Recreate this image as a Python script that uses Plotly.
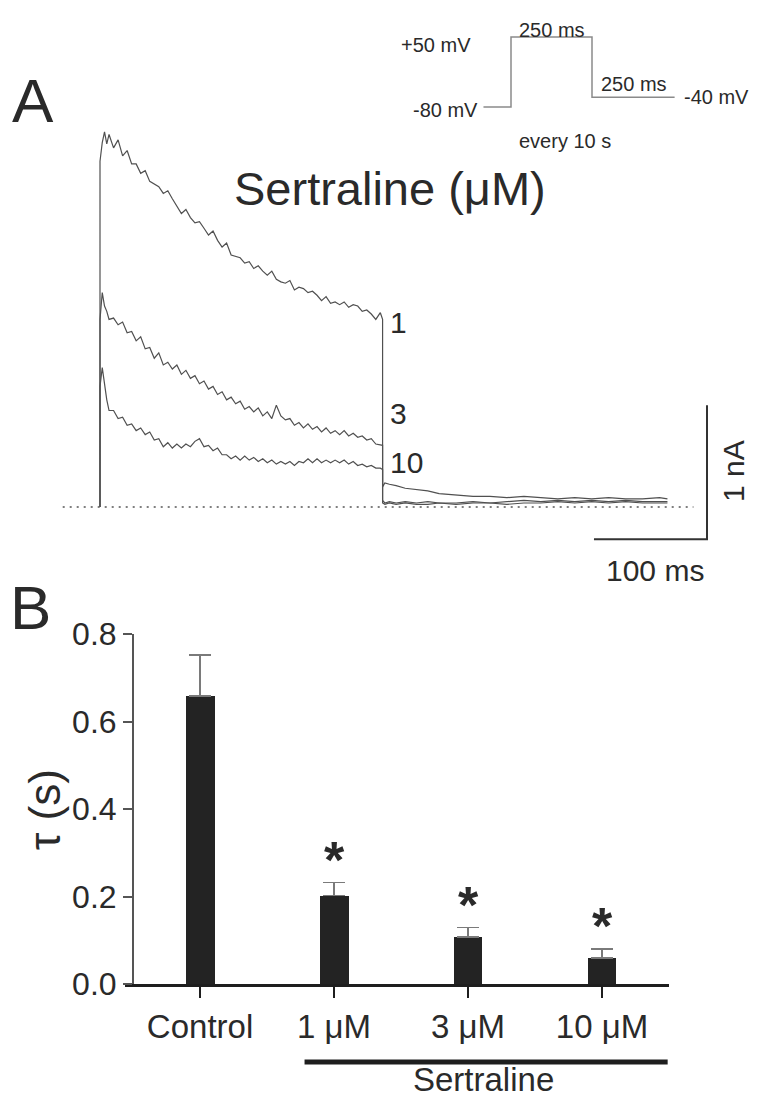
import plotly.graph_objects as go

W, H = 769, 1099
FONT = "Arial, Liberation Sans, sans-serif"
INK = "#2a2a2a"

# ---------------- Panel A data (current traces, nA vs ms) ----------------
t_step = [0, 2, 4, 6, 8, 12, 16, 20, 24, 28, 32, 36, 40, 44, 48, 52, 56, 60, 64, 68,
          72, 76, 80, 84, 88, 92, 96, 100, 104, 108, 112, 116, 120, 124, 128, 132,
          136, 140, 144, 148, 152, 156, 160, 164, 168, 172, 176, 180, 184, 188, 192,
          196, 200, 204, 208, 212, 216, 220, 224, 228, 232, 236, 240, 244, 248, 250]

i_1uM = [2.58, 2.72, 2.80, 2.71, 2.78, 2.68, 2.74, 2.62, 2.66, 2.56,
         2.56, 2.49, 2.51, 2.43, 2.41, 2.39, 2.34, 2.36, 2.30, 2.25,
         2.19, 2.22, 2.16, 2.12, 2.13, 2.08, 2.03, 2.06, 1.99, 1.94,
         1.97, 1.88, 1.87, 1.86, 1.82, 1.83, 1.78, 1.80, 1.76, 1.73,
         1.76, 1.70, 1.68, 1.67, 1.69, 1.62, 1.64, 1.63, 1.60, 1.61,
         1.58, 1.54, 1.57, 1.52, 1.53, 1.51, 1.53, 1.49, 1.51, 1.50,
         1.46, 1.47, 1.44, 1.40, 1.45, 1.40]

i_3uM = [1.40, 1.60, 1.50, 1.46, 1.40, 1.41, 1.36, 1.38, 1.30, 1.31,
         1.24, 1.27, 1.18, 1.19, 1.11, 1.15, 1.06, 1.08, 1.03, 1.06,
         0.99, 1.02, 0.96, 0.98, 0.92, 0.94, 0.88, 0.90, 0.84, 0.86,
         0.80, 0.82, 0.77, 0.79, 0.73, 0.75, 0.71, 0.74, 0.68, 0.71,
         0.66, 0.76, 0.68, 0.65, 0.66, 0.61, 0.63, 0.59, 0.62, 0.58,
         0.60, 0.56, 0.59, 0.55, 0.57, 0.54, 0.57, 0.53, 0.55, 0.52,
         0.53, 0.50, 0.51, 0.47, 0.46, 0.46]

i_10uM = [0.90, 1.04, 0.90, 0.80, 0.72, 0.72, 0.66, 0.67, 0.61, 0.62,
          0.57, 0.59, 0.54, 0.56, 0.50, 0.51, 0.45, 0.48, 0.44, 0.47,
          0.44, 0.47, 0.45, 0.49, 0.51, 0.45, 0.46, 0.42, 0.44, 0.39,
          0.39, 0.36, 0.38, 0.35, 0.38, 0.35, 0.37, 0.34, 0.36, 0.33,
          0.35, 0.32, 0.34, 0.32, 0.34, 0.31, 0.34, 0.33, 0.36, 0.33,
          0.36, 0.33, 0.35, 0.33, 0.35, 0.33, 0.35, 0.32, 0.34, 0.31,
          0.32, 0.30, 0.31, 0.29, 0.29, 0.28]

t_tail = [250, 252, 256, 262, 270, 280, 290, 300, 315, 330, 345, 360, 375, 390, 405,
          420, 435, 450, 465, 480, 495, 502]
tail_1uM = [0.15, 0.18, 0.17, 0.16, 0.14, 0.13, 0.12, 0.10, 0.09, 0.08, 0.08, 0.07,
            0.08, 0.07, 0.06, 0.07, 0.06, 0.07, 0.06, 0.06, 0.07, 0.06]
tail_3uM = [0.05, 0.03, 0.04, 0.03, 0.04, 0.03, 0.04, 0.03, 0.03, 0.04, 0.03, 0.04,
            0.05, 0.04, 0.05, 0.04, 0.05, 0.04, 0.05, 0.04, 0.04, 0.04]
tail_10uM = [0.03, 0.02, 0.03, 0.02, 0.03, 0.02, 0.02, 0.03, 0.02, 0.03, 0.03, 0.02,
             0.03, 0.03, 0.04, 0.03, 0.04, 0.03, 0.04, 0.03, 0.03, 0.03]

trace_labels = ["1", "3", "10"]
baseline_t = [-33, 525]
scalebar_t = [437, 537, 537]      # 100 ms
scalebar_i = [-0.24, -0.24, 0.76]  # 1 nA

# voltage protocol (schematic): time in ms, level 0 = -80 mV, 1 = +50 mV
proto_t = [-85, 0, 0, 250, 250, 505]
proto_level = [0, 0, 1, 1, 0.14, 0.14]

# ---------------- Panel B data (tau, s) ----------------
categories = ["Control", "1 μM", "3 μM", "10 μM"]
tau_mean = [0.658, 0.202, 0.108, 0.060]
tau_sem = [0.094, 0.030, 0.021, 0.020]
significant = [False, True, True, True]
yticks = [0.0, 0.2, 0.4, 0.6, 0.8]


# ---------------- helpers: pixel -> paper ----------------
def px(x):
    return x / W


def py(y):
    return 1 - y / H


def lin_range(p0, v0, p1, v1, lo, hi):
    # axis value range for pixel span [lo, hi] given two calibration pairs
    s = (v1 - v0) / (p1 - p0)
    return [v0 + (lo - p0) * s, v0 + (hi - p0) * s]


fig = go.Figure()

# ---- Panel A traces ----
for ist, itail in [(i_1uM, tail_1uM), (i_3uM, tail_3uM), (i_10uM, tail_10uM)]:
    fig.add_trace(go.Scatter(
        x=[0] + t_step + t_tail, y=[0] + ist + itail,
        mode="lines", line=dict(color="#505050", width=1.2),
        xaxis="x", yaxis="y", showlegend=False, hoverinfo="skip"))

fig.add_trace(go.Scatter(
    x=baseline_t, y=[0, 0], mode="lines",
    line=dict(color="#555555", width=1.6, dash="2px,5px"),
    xaxis="x", yaxis="y", showlegend=False, hoverinfo="skip"))

fig.add_trace(go.Scatter(
    x=scalebar_t, y=scalebar_i, mode="lines",
    line=dict(color="#333333", width=2),
    xaxis="x", yaxis="y", showlegend=False, hoverinfo="skip"))

label_y = [1.38, 0.70, 0.33]
for lab, ly in zip(trace_labels, label_y):
    fig.add_annotation(x=255, y=ly, xref="x", yref="y", text=lab, showarrow=False,
                       xanchor="left", yanchor="middle",
                       font=dict(size=30, color=INK, family=FONT))

# ---- protocol ----
fig.add_trace(go.Scatter(
    x=proto_t, y=proto_level, mode="lines",
    line=dict(color="#8a8a8a", width=1.5),
    xaxis="x3", yaxis="y3", showlegend=False, hoverinfo="skip"))

# ---- Panel B bars ----
fig.add_trace(go.Bar(
    x=categories, y=tau_mean, width=0.216,
    marker=dict(color="#232323", line=dict(width=0)),
    error_y=dict(type="data", array=tau_sem, arrayminus=[0] * 4, symmetric=False,
                 color="#7a7a7a", thickness=1.5, width=11),
    xaxis="x2", yaxis="y2", showlegend=False, hoverinfo="skip"))

for c, m, s, sig in zip(categories, tau_mean, tau_sem, significant):
    if sig:
        fig.add_annotation(x=c, y=m + s, xref="x2", yref="y2", text="<b>*</b>",
                           showarrow=False, xanchor="center", yanchor="bottom",
                           yshift=-8, font=dict(size=52, color=INK, family=FONT))

# ---- layout ----
xa_A = lin_range(100, 0, 707, 537, 0, W)
ya_A = lin_range(507, 0, 373, 1, 600, 110)
xa_P = lin_range(511, 0, 592, 250, 440, 730)
ya_P = lin_range(107, 0, 37, 1, 130, 20)

fig.update_layout(
    width=W, height=H, margin=dict(l=0, r=0, t=0, b=0, autoexpand=False),
    paper_bgcolor="white", plot_bgcolor="white",
    font=dict(family=FONT, color=INK),
    xaxis=dict(domain=[0, 1], range=xa_A, visible=False, anchor="y"),
    yaxis=dict(domain=[py(600), py(110)], range=ya_A, visible=False, anchor="x"),
    xaxis3=dict(domain=[px(440), px(730)], range=xa_P, visible=False, anchor="y3"),
    yaxis3=dict(domain=[py(130), py(20)], range=ya_P, visible=False, anchor="x3"),
    xaxis2=dict(domain=[px(125), px(669)], range=[-0.56, 3.5], anchor="y2",
                type="category", showline=True, linecolor="#1e1e1e", linewidth=3,
                ticks="outside", ticklen=11, tickwidth=2, tickcolor="#1e1e1e",
                tickfont=dict(size=33, color=INK), showgrid=False, zeroline=False,
                ticklabelstandoff=0, automargin=False),
    yaxis2=dict(domain=[py(984), py(634)], range=[0, 0.8], anchor="free",
                position=px(133), showline=True, linecolor="#555555", linewidth=2,
                ticks="outside", ticklen=9, tickwidth=2, tickcolor="#555555",
                tickvals=yticks, tickformat=".1f", automargin=False,
                tickfont=dict(size=32, color=INK), showgrid=False, zeroline=False),
    bargap=0,
)

# Sertraline group bar under the concentrations
fig.add_shape(type="line", xref="x2", yref="paper", x0=0.78, x1=3.49,
              y0=py(1062), y1=py(1062), line=dict(color="#1e1e1e", width=5))

texts = [
    ("A", 33, 100, 62, "center", 0),
    ("B", 30, 607, 62, "center", 0),
    ("Sertraline (μM)", 390, 188, 47, "center", 0),
    ("+50 mV", 472, 45, 20, "right", 0),
    ("-80 mV", 479, 110, 20, "right", 0),
    ("250 ms", 552, 30, 20, "center", 0),
    ("250 ms", 634, 84, 20, "center", 0),
    ("-40 mV", 716, 97, 20, "center", 0),
    ("every 10 s", 565, 141, 20, "center", 0),
    ("100 ms", 655, 570, 30, "center", 0),
    ("1 nA", 733, 471, 30, "center", -90),
    ("τ (s)", 44, 810, 44, "center", -90),
    ("Sertraline", 483, 1079, 33, "center", 0),
]
for txt, x, y, size, anchor, ang in texts:
    fig.add_annotation(x=px(x), y=py(y), xref="paper", yref="paper", text=txt,
                       showarrow=False, xanchor=anchor, yanchor="middle",
                       textangle=ang, borderpad=0,
                       font=dict(size=size, color=INK, family=FONT))

fig.write_html(
    "out.html",
    config={"displayModeBar": False},
    post_script="document.body.style.margin='0';document.body.style.padding='0';"
                "document.body.style.overflow='hidden';",
)
